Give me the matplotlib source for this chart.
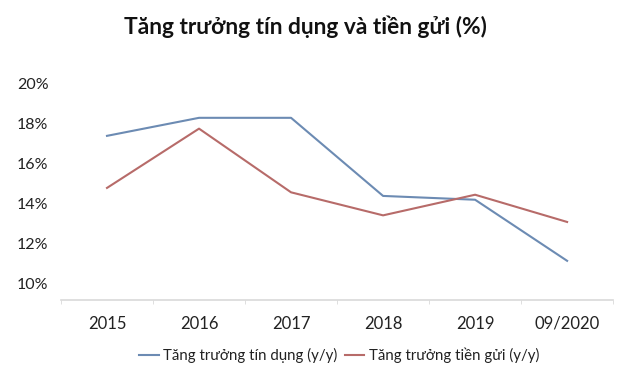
import numpy as np
import matplotlib
matplotlib.use("Agg")
import matplotlib.pyplot as plt
from matplotlib.ticker import FuncFormatter

plt.rcParams['font.family'] = ['Lato', 'DejaVu Sans']

categories = ["2015", "2016", "2017", "2018", "2019", "09/2020"]
credit_growth = [17.37, 18.27, 18.27, 14.37, 14.18, 11.13]
deposit_growth = [14.77, 17.73, 14.55, 13.40, 14.43, 13.07]
series_names = ["Tăng trưởng tín dụng (y/y)", "Tăng trưởng tiền gửi (y/y)"]
yticks = [10, 12, 14, 16, 18, 20]

fig = plt.figure(figsize=(6.4, 3.77), dpi=100)
ax = fig.add_axes([0.0953, 0.203, 0.8627, 0.587])

x = np.arange(len(categories))
ax.plot(x, credit_growth, color="#6c8bb3", linewidth=1.5, label=series_names[0])
ax.plot(x, deposit_growth, color="#b76b69", linewidth=1.5, label=series_names[1])

ax.set_xlim(-0.5, len(categories) - 0.5)
ax.set_ylim(9.15, 20.2)
ax.set_yticks(yticks)
ax.yaxis.set_major_formatter(FuncFormatter(lambda v, p: f"{v:.0f}%"))
ax.set_xticks(x)
ax.set_xticklabels(categories)
ax.set_xticks(np.arange(-0.5, len(categories)), minor=True)

for s in ["top", "right", "left"]:
    ax.spines[s].set_visible(False)
ax.spines["bottom"].set_color("#d9d9d9")
ax.spines["bottom"].set_linewidth(1.2)
ax.tick_params(axis="y", length=0, labelsize=11.5, labelcolor="#222222", pad=9)
ax.tick_params(axis="x", which="major", length=0, labelsize=12, labelcolor="#222222", pad=11)
ax.tick_params(axis="x", which="minor", length=3, color="#d9d9d9", direction="out")

fig.text(0.477, 0.928, "Tăng trưởng tín dụng và tiền gửi (%)", ha="center", va="center",
         fontsize=16.4, fontweight="bold", color="#111111")

fig.legend(loc="center", bbox_to_anchor=(0.53, 0.058), ncol=2, frameon=False,
           fontsize=10.8, handlelength=1.3, handletextpad=0.3, columnspacing=0.5,
           labelcolor="#222222")

fig.savefig("out.png", dpi=100)
